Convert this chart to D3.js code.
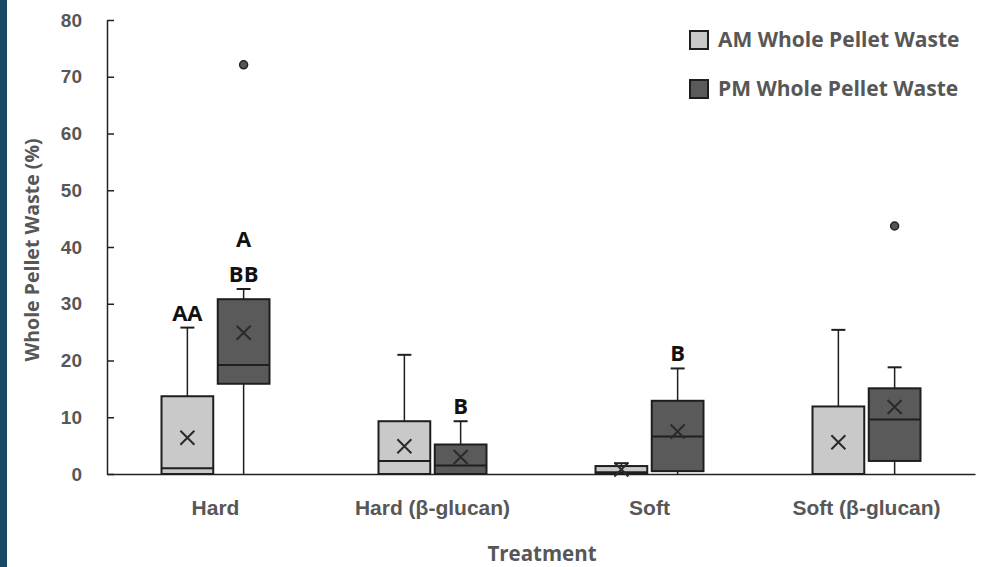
<!DOCTYPE html>
<html>
<head>
<meta charset="utf-8">
<script src="https://cdn.jsdelivr.net/npm/d3@7"></script>
<style>
  body { margin: 0; background: #fff; }
  svg { display: block; font-family: "Open Sans", sans-serif; }
  .tick text { fill: #575757; font-weight: 700; }
</style>
</head>
<body>
<div id="chart"></div>
<script>
document.addEventListener("DOMContentLoaded", function() {

  var W = 987, H = 567;

  // data: [min, q1, median, q3, max, mean]
  var categories = ["Hard", "Hard (β-glucan)", "Soft", "Soft (β-glucan)"];
  var series = ["AM Whole Pellet Waste", "PM Whole Pellet Waste"];
  var amStats = [
    [0, 0, 1.0, 13.7, 25.8, 6.4],
    [0, 0, 2.3, 9.3, 21.0, 4.9],
    [0, 0, 0.3, 1.4, 1.9, 0.8],
    [0, 0, 0.0, 11.9, 25.4, 5.6]
  ];
  var pmStats = [
    [0, 15.9, 19.2, 30.8, 32.6, 24.9],
    [0, 0, 1.5, 5.2, 9.3, 3.0],
    [0, 0.5, 6.6, 12.9, 18.6, 7.5],
    [0, 2.3, 9.6, 15.1, 18.8, 11.8]
  ];
  var amOutliers = [[], [], [], []];
  var pmOutliers = [[72.1], [], [], [43.7]];
  var amLetters = [["AA"], [], [], []];
  var pmLetters = [["BB", "A"], ["B"], ["B"], []];
  var yTicks = [0, 10, 20, 30, 40, 50, 60, 70, 80];

  var fills = ["#c9c9c9", "#5a5a5a"];

  var svg = d3.select("#chart").append("svg")
      .attr("width", W).attr("height", H);

  // dark strip on the left edge
  svg.append("rect").attr("x", 0).attr("y", 0).attr("width", 7).attr("height", H)
     .attr("fill", "#174a66");

  var x = d3.scaleBand().domain(categories).range([107, 975]).paddingInner(0);
  var y = d3.scaleLinear().domain([0, 80]).range([474, 20]);
  var bw = x.bandwidth();
  var xs = d3.scaleBand().domain(series).range([bw / 2 - 54, bw / 2 + 54]).paddingInner(0.08);
  var boxW = xs.bandwidth();

  // y axis
  var yAxis = d3.axisLeft(y).tickValues(yTicks).tickSizeInner(-7).tickSizeOuter(0).tickPadding(25);
  var gy = svg.append("g").attr("transform", "translate(107,0)").call(yAxis);
  gy.selectAll("text").style("font-size", "19px");
  gy.selectAll("line, path").attr("stroke", "#222").attr("stroke-width", 1.5);

  // x axis
  var xAxis = d3.axisBottom(x).tickSize(0).tickPadding(26);
  var gx = svg.append("g").attr("transform", "translate(0,474)").call(xAxis);
  gx.selectAll("text").style("font-size", "21px");
  gx.select(".domain").attr("stroke", "#222").attr("stroke-width", 1.5);

  svg.append("text")
     .attr("transform", "translate(39,250) rotate(-90)")
     .attr("text-anchor", "middle")
     .attr("fill", "#575757")
     .style("font-size", "19.5px").style("font-weight", 700)
     .text("Whole Pellet Waste (%)");

  svg.append("text")
     .attr("x", 542).attr("y", 561)
     .attr("text-anchor", "middle")
     .attr("fill", "#575757")
     .style("font-size", "20.5px").style("font-weight", 700)
     .text("Treatment");

  var groups = [
    { name: series[0], stats: amStats, out: amOutliers, letters: amLetters, fill: fills[0] },
    { name: series[1], stats: pmStats, out: pmOutliers, letters: pmLetters, fill: fills[1] }
  ];

  groups.forEach(function(s) {
    var g = svg.append("g");
    categories.forEach(function(c, i) {
      var st = s.stats[i];
      var x0 = x(c) + xs(s.name);
      var cx = x0 + boxW / 2;
      var stroke = "#1e1e1e";

      // whiskers
      g.append("line").attr("x1", cx).attr("x2", cx)
        .attr("y1", y(st[3])).attr("y2", y(st[4]))
        .attr("stroke", stroke).attr("stroke-width", 1.5);
      g.append("line").attr("x1", cx - 7).attr("x2", cx + 7)
        .attr("y1", y(st[4])).attr("y2", y(st[4]))
        .attr("stroke", stroke).attr("stroke-width", 2);
      if (st[1] > st[0]) {
        g.append("line").attr("x1", cx).attr("x2", cx)
          .attr("y1", y(st[1])).attr("y2", y(st[0]))
          .attr("stroke", stroke).attr("stroke-width", 1.5);
      }

      // box
      g.append("rect").attr("x", x0).attr("width", boxW)
        .attr("y", y(st[3])).attr("height", y(st[1]) - y(st[3]))
        .attr("fill", s.fill).attr("stroke", stroke).attr("stroke-width", 2);

      // median
      g.append("line").attr("x1", x0).attr("x2", x0 + boxW)
        .attr("y1", y(st[2])).attr("y2", y(st[2]))
        .attr("stroke", stroke).attr("stroke-width", 2);

      // mean marker
      var my = y(st[5]), m = 7;
      g.append("path")
        .attr("d", "M" + (cx - m) + "," + (my - m) + "L" + (cx + m) + "," + (my + m) +
                   "M" + (cx - m) + "," + (my + m) + "L" + (cx + m) + "," + (my - m))
        .attr("stroke", "#2a2a2a").attr("stroke-width", 2).attr("fill", "none");

      // outliers
      s.out[i].forEach(function(v) {
        g.append("circle").attr("cx", cx).attr("cy", y(v)).attr("r", 4)
          .attr("fill", "#555").attr("stroke", "#222").attr("stroke-width", 1.5);
      });

      // significance letters
      s.letters[i].forEach(function(t, k) {
        g.append("text").attr("x", cx).attr("y", y(st[4]) - 7 - k * 35)
          .attr("text-anchor", "middle")
          .attr("fill", "#111")
          .style("font-size", "22px").style("font-weight", 700)
          .text(t);
      });
    });
  });

  // legend
  var legend = svg.append("g").attr("transform", "translate(690,31)");
  series.forEach(function(s, i) {
    var r = legend.append("g").attr("transform", "translate(0," + (i * 49) + ")");
    r.append("rect").attr("width", 18).attr("height", 18)
      .attr("fill", fills[i]).attr("stroke", "#1e1e1e").attr("stroke-width", 2);
    r.append("text").attr("x", 28).attr("y", 16)
      .attr("fill", "#575757")
      .style("font-size", "21px").style("font-weight", 700)
      .text(s);
  });
});
</script>
</body>
</html>
